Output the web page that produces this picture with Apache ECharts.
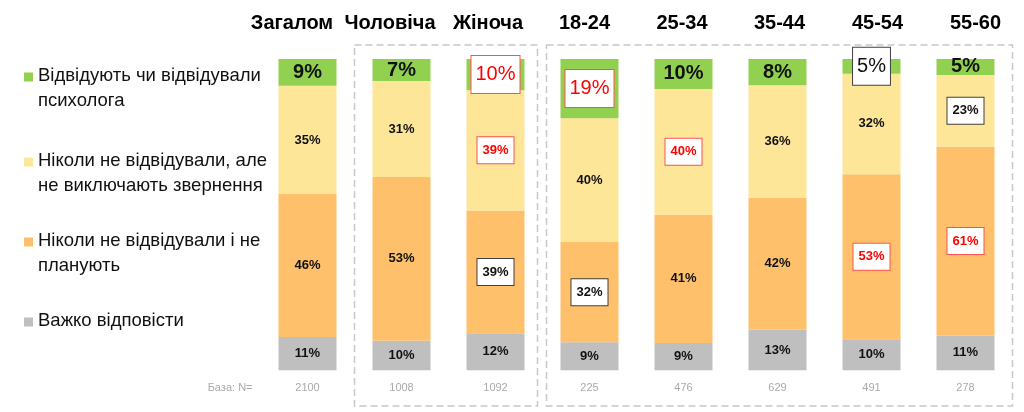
<!DOCTYPE html>
<html><head><meta charset="utf-8">
<script src="https://cdn.jsdelivr.net/npm/echarts@6/dist/echarts.min.js"></script>
<style>html,body{margin:0;padding:0;background:#fff}#c{width:1024px;height:412px}</style>
</head><body><div id="c"></div>
<script>
// ---- data ----
const categories = ['Загалом', 'Чоловіча', 'Жіноча', '18-24', '25-34', '35-44', '45-54', '55-60'];
const baseN = [2100, 1008, 1092, 225, 476, 629, 491, 278];
const baseLabel = 'База: N=';
const seriesNames = [
  'Важко відповісти',
  'Ніколи не відвідували і не планують',
  'Ніколи не відвідували, але не виключають звернення',
  'Відвідують чи відвідували психолога'
];
const legendLines = [
  ['Відвідують чи відвідували', 'психолога'],
  ['Ніколи не відвідували, але', 'не виключають звернення'],
  ['Ніколи не відвідували і не', 'планують'],
  ['Важко відповісти']
];
const hardToSay   = [10.7, 9.5, 11.9, 9.0, 8.8, 13.0, 10.0, 11.2];
const neverNoPlan = [45.9, 52.6, 39.4, 32.2, 41.2, 42.4, 53.0, 60.7];
const neverOpen   = [34.8, 30.8, 38.7, 39.8, 40.4, 36.2, 32.3, 23.0];
const attended    = [8.6, 7.1, 10.0, 19.0, 9.6, 8.4, 4.7, 5.1];
// highlighted cells (category indexes)
const redMarked   = { attended: [2, 3], neverOpen: [2, 4], neverNoPlan: [6, 7], hardToSay: [] };
const blackMarked = { attended: [6], neverOpen: [7], neverNoPlan: [2, 3], hardToSay: [] };

// ---- style ----
const FONT = '"Liberation Sans", Arial, sans-serif';
const colors = { hardToSay: '#bfbfbf', neverNoPlan: '#fec06b', neverOpen: '#fee699', attended: '#92d050' };
const legendColors = [colors.attended, colors.neverOpen, colors.neverNoPlan, colors.hardToSay];
const legendY = [76, 161, 241, 321];
const headerShift = [-15.5, -11.5, -7.5, -5, -1.5, 2, 6, 10];

function buildData(values, key, big) {
  return values.map((v, i) => {
    const item = { value: v };
    const red = redMarked[key].includes(i), black = blackMarked[key].includes(i);
    if (red || black) {
      item.label = {
        color: red ? '#ff0000' : '#111111',
        fontWeight: big ? 'normal' : 'bold',
        backgroundColor: '#ffffff',
        borderColor: red ? '#ff5050' : '#404040',
        borderWidth: 1,
        padding: big ? [9, 4, 8, 4] : [7, 5, 6, 5]
      };
    }
    return item;
  });
}

function makeSeries(name, values, key, big) {
  return {
    name: name, type: 'bar', stack: 'total', barWidth: 58,
    itemStyle: { color: colors[key] },
    label: {
      show: true, position: 'inside',
      fontFamily: FONT,
      fontSize: big ? 20 : 13,
      fontWeight: 'bold',
      color: '#111111',
      formatter: p => Math.round(p.value) + '%'
    },
    emphasis: { disabled: true },
    data: buildData(values, key, big)
  };
}

const headerRich = {};
headerShift.forEach((s, i) => {
  headerRich['h' + i] = {
    fontFamily: FONT, fontSize: 20, fontWeight: 'bold', color: '#000',
    padding: s < 0 ? [0, -2 * s, 0, 0] : [0, 0, 0, 2 * s]
  };
});

const chart = echarts.init(document.getElementById('c'), null, { renderer: 'canvas' });
chart.setOption({
  animation: false,
  grid: { left: 260.5, right: 11.5, top: 59, bottom: 41.7 },
  xAxis: [
    {
      type: 'category', data: categories, position: 'bottom',
      axisLine: { show: false }, axisTick: { show: false },
      axisLabel: { interval: 0, margin: 12, fontFamily: FONT, fontSize: 11, color: '#aaaaaa',
        formatter: (v, i) => String(baseN[i]) }
    },
    {
      type: 'category', data: categories, position: 'top',
      axisLine: { show: false }, axisTick: { show: false },
      axisLabel: { interval: 0, hideOverlap: false, margin: 26, fontFamily: FONT, fontSize: 20, fontWeight: 'bold', color: '#000',
        formatter: (v, i) => '{h' + i + '|' + v + '}', rich: headerRich }
    }
  ],
  yAxis: { type: 'value', min: 0, max: 100, show: false },
  series: [
    makeSeries(seriesNames[0], hardToSay, 'hardToSay', false),
    makeSeries(seriesNames[1], neverNoPlan, 'neverNoPlan', false),
    makeSeries(seriesNames[2], neverOpen, 'neverOpen', false),
    makeSeries(seriesNames[3], attended, 'attended', true)
  ]
});

// legend, dashed group frames & base label, positioned from the category axis
const cx = i => chart.convertToPixel({ xAxisIndex: 0 }, categories[i]);
const half = (cx(1) - cx(0)) / 2;
const frameStyle = { fill: 'none', stroke: '#c8c8c8', lineWidth: 1.5, lineDash: [7, 4] };
const graphics = [
  { type: 'rect', shape: { x: cx(1) - half, y: 45, width: (cx(2) + half - 5) - (cx(1) - half), height: 361 }, style: frameStyle, silent: true },
  { type: 'rect', shape: { x: cx(3) - half + 4, y: 45, width: (cx(7) + half) - (cx(3) - half + 4), height: 361 }, style: frameStyle, silent: true },
  { type: 'text', x: cx(0) - half - 8, y: 388, style: { text: baseLabel, fontFamily: FONT, fontSize: 11, fill: '#aaaaaa', align: 'right', verticalAlign: 'middle' }, silent: true }
];
legendLines.forEach((lines, k) => {
  graphics.push({ type: 'rect', shape: { x: 24, y: legendY[k] + 1 - 4.5, width: 9, height: 9 }, style: { fill: legendColors[k] }, silent: true });
  graphics.push({ type: 'text', x: 38, y: legendY[k] - 12, style: { text: lines.join('\n'), fontFamily: FONT, fontSize: 18.5, lineHeight: 24.5, fill: '#111111', align: 'left', verticalAlign: 'top' }, silent: true });
});
chart.setOption({ graphic: graphics });
</script></body></html>
